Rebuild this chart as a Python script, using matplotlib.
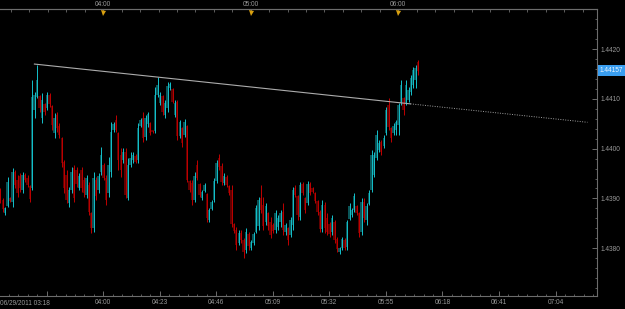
import numpy as np
import matplotlib
matplotlib.use("Agg")
import matplotlib.pyplot as plt
import matplotlib.transforms as mtransforms
from matplotlib.ticker import FixedLocator

# ---------------- data (EUR/USD 1-minute candles, 06/29/2011 from 03:18) ----------------
start_label = "06/29/2011 03:18"
start_hhmm = (3, 18)

opens = [
    1.43917, 1.43897, 1.43871, 1.43885, 1.43901, 1.43893, 1.43953, 1.43937, 1.43945, 1.43917,
    1.43947, 1.43941, 1.43925, 1.43921, 1.44078, 1.44104, 1.44106, 1.44062, 1.44090, 1.44082,
    1.44108, 1.44086, 1.44032, 1.44068, 1.44046, 1.44022, 1.43973, 1.43947, 1.43891, 1.43917,
    1.43961, 1.43957, 1.43921, 1.43957, 1.43937, 1.43907, 1.43927, 1.43871, 1.43841, 1.43937,
    1.43917, 1.43953, 1.43967, 1.43941, 1.43911, 1.43953, 1.44038, 1.44058, 1.44032, 1.43987,
    1.43977, 1.43993, 1.43901, 1.43967, 1.43977, 1.43985, 1.43977, 1.44046, 1.44062, 1.44024,
    1.44050, 1.44052, 1.44038, 1.44036, 1.44108, 1.44092, 1.44106, 1.44068, 1.44082, 1.44122,
    1.44120, 1.44068, 1.44094, 1.44026, 1.44042, 1.44028, 1.44046, 1.43935, 1.43931, 1.43897,
    1.43967, 1.43929, 1.43901, 1.43915, 1.43909, 1.43857, 1.43879, 1.43897, 1.43935, 1.43981,
    1.43965, 1.43931, 1.43943, 1.43925, 1.43917, 1.43849, 1.43837, 1.43811, 1.43831, 1.43817,
    1.43796, 1.43829, 1.43801, 1.43811, 1.43833, 1.43845, 1.43901, 1.43887, 1.43853, 1.43871,
    1.43853, 1.43847, 1.43837, 1.43843, 1.43853, 1.43873, 1.43833, 1.43841, 1.43827, 1.43847,
    1.43921, 1.43905, 1.43863, 1.43929, 1.43901, 1.43891, 1.43929, 1.43921, 1.43911, 1.43895,
    1.43873, 1.43839, 1.43887, 1.43861, 1.43849, 1.43833, 1.43853, 1.43819, 1.43792, 1.43801,
    1.43817, 1.43803, 1.43859, 1.43867, 1.43877, 1.43885, 1.43871, 1.43833, 1.43893, 1.43857,
    1.43889, 1.43917, 1.43947, 1.43981, 1.43997, 1.44014, 1.44006, 1.44032, 1.44088, 1.44042,
    1.44032, 1.44038, 1.44048, 1.44092, 1.44102, 1.44092, 1.44098, 1.44114, 1.44128, 1.44138,
    1.44174,
]
highs = [
    1.43921, 1.43901, 1.43883, 1.43943, 1.43903, 1.43961, 1.43957, 1.43947, 1.43951, 1.43953,
    1.43951, 1.43947, 1.43927, 1.44138, 1.44114, 1.44168, 1.44108, 1.44112, 1.44092, 1.44114,
    1.44112, 1.44088, 1.44072, 1.44074, 1.44052, 1.44024, 1.43977, 1.43957, 1.43923, 1.43963,
    1.43967, 1.43963, 1.43951, 1.43963, 1.43943, 1.43947, 1.43933, 1.43873, 1.43953, 1.43943,
    1.43951, 1.44004, 1.43971, 1.43947, 1.43983, 1.44054, 1.44054, 1.44068, 1.44034, 1.44002,
    1.44002, 1.44002, 1.43981, 1.43993, 1.43993, 1.43989, 1.44052, 1.44062, 1.44074, 1.44068,
    1.44074, 1.44054, 1.44038, 1.44124, 1.44144, 1.44114, 1.44108, 1.44098, 1.44134, 1.44134,
    1.44122, 1.44098, 1.44098, 1.44058, 1.44044, 1.44060, 1.44048, 1.43937, 1.43937, 1.43953,
    1.43977, 1.43931, 1.43917, 1.43931, 1.43911, 1.43881, 1.43897, 1.43941, 1.43977, 1.43989,
    1.43971, 1.43951, 1.43947, 1.43927, 1.43927, 1.43851, 1.43843, 1.43837, 1.43837, 1.43821,
    1.43841, 1.43833, 1.43817, 1.43833, 1.43887, 1.43903, 1.43927, 1.43903, 1.43891, 1.43873,
    1.43863, 1.43851, 1.43877, 1.43867, 1.43877, 1.43891, 1.43851, 1.43843, 1.43863, 1.43923,
    1.43927, 1.43907, 1.43933, 1.43933, 1.43903, 1.43935, 1.43933, 1.43923, 1.43913, 1.43897,
    1.43877, 1.43897, 1.43893, 1.43871, 1.43853, 1.43867, 1.43857, 1.43823, 1.43803, 1.43823,
    1.43821, 1.43857, 1.43891, 1.43881, 1.43911, 1.43887, 1.43873, 1.43901, 1.43901, 1.43891,
    1.43917, 1.43997, 1.43993, 1.44038, 1.44018, 1.44018, 1.44028, 1.44084, 1.44102, 1.44044,
    1.44052, 1.44058, 1.44092, 1.44138, 1.44104, 1.44138, 1.44124, 1.44148, 1.44164, 1.44168,
    1.44178,
]
lows = [
    1.43891, 1.43873, 1.43867, 1.43883, 1.43893, 1.43883, 1.43921, 1.43903, 1.43913, 1.43911,
    1.43933, 1.43923, 1.43893, 1.43917, 1.44062, 1.44102, 1.44074, 1.44052, 1.44068, 1.44078,
    1.44084, 1.44038, 1.44022, 1.44034, 1.44022, 1.43963, 1.43911, 1.43891, 1.43883, 1.43911,
    1.43893, 1.43923, 1.43917, 1.43913, 1.43903, 1.43901, 1.43867, 1.43831, 1.43833, 1.43897,
    1.43911, 1.43947, 1.43937, 1.43887, 1.43903, 1.43943, 1.44034, 1.44034, 1.43957, 1.43943,
    1.43971, 1.43901, 1.43897, 1.43963, 1.43971, 1.43971, 1.43971, 1.44044, 1.44014, 1.44018,
    1.44044, 1.44028, 1.44032, 1.44032, 1.44104, 1.44088, 1.44068, 1.44062, 1.44074, 1.44118,
    1.44092, 1.44064, 1.44018, 1.44022, 1.44004, 1.44024, 1.43933, 1.43913, 1.43887, 1.43893,
    1.43937, 1.43903, 1.43897, 1.43913, 1.43853, 1.43853, 1.43877, 1.43893, 1.43931, 1.43957,
    1.43927, 1.43927, 1.43923, 1.43907, 1.43843, 1.43831, 1.43796, 1.43807, 1.43811, 1.43780,
    1.43790, 1.43796, 1.43796, 1.43807, 1.43831, 1.43837, 1.43871, 1.43837, 1.43847, 1.43837,
    1.43821, 1.43831, 1.43831, 1.43837, 1.43843, 1.43827, 1.43827, 1.43807, 1.43823, 1.43837,
    1.43903, 1.43857, 1.43857, 1.43907, 1.43871, 1.43887, 1.43907, 1.43911, 1.43891, 1.43867,
    1.43833, 1.43833, 1.43831, 1.43827, 1.43823, 1.43827, 1.43811, 1.43792, 1.43788, 1.43796,
    1.43796, 1.43796, 1.43857, 1.43863, 1.43873, 1.43867, 1.43823, 1.43827, 1.43853, 1.43847,
    1.43887, 1.43913, 1.43943, 1.43977, 1.43993, 1.43987, 1.44002, 1.44028, 1.44038, 1.44014,
    1.44028, 1.44028, 1.44028, 1.44088, 1.44068, 1.44088, 1.44094, 1.44108, 1.44122, 1.44122,
    1.44148,
]
closes = [
    1.43897, 1.43879, 1.43881, 1.43933, 1.43895, 1.43953, 1.43927, 1.43911, 1.43921, 1.43947,
    1.43937, 1.43927, 1.43899, 1.44104, 1.44108, 1.44138, 1.44082, 1.44098, 1.44074, 1.44108,
    1.44090, 1.44048, 1.44062, 1.44042, 1.44028, 1.43971, 1.43921, 1.43897, 1.43917, 1.43953,
    1.43901, 1.43929, 1.43945, 1.43921, 1.43911, 1.43941, 1.43873, 1.43841, 1.43941, 1.43905,
    1.43945, 1.43987, 1.43941, 1.43897, 1.43967, 1.44034, 1.44050, 1.44038, 1.43977, 1.43957,
    1.43993, 1.43907, 1.43967, 1.43981, 1.43987, 1.43973, 1.44042, 1.44058, 1.44022, 1.44062,
    1.44070, 1.44032, 1.44034, 1.44108, 1.44128, 1.44108, 1.44074, 1.44092, 1.44126, 1.44130,
    1.44094, 1.44092, 1.44026, 1.44054, 1.44012, 1.44054, 1.43937, 1.43917, 1.43897, 1.43945,
    1.43941, 1.43907, 1.43913, 1.43927, 1.43861, 1.43877, 1.43893, 1.43935, 1.43971, 1.43963,
    1.43933, 1.43945, 1.43927, 1.43911, 1.43849, 1.43835, 1.43807, 1.43831, 1.43817, 1.43792,
    1.43833, 1.43805, 1.43813, 1.43829, 1.43881, 1.43897, 1.43877, 1.43845, 1.43885, 1.43845,
    1.43827, 1.43835, 1.43871, 1.43861, 1.43871, 1.43837, 1.43847, 1.43817, 1.43857, 1.43917,
    1.43907, 1.43867, 1.43927, 1.43911, 1.43877, 1.43929, 1.43911, 1.43913, 1.43895, 1.43873,
    1.43839, 1.43887, 1.43841, 1.43833, 1.43829, 1.43861, 1.43817, 1.43799, 1.43801, 1.43819,
    1.43801, 1.43853, 1.43885, 1.43877, 1.43905, 1.43871, 1.43831, 1.43893, 1.43861, 1.43885,
    1.43911, 1.43987, 1.43987, 1.44028, 1.44012, 1.43993, 1.44022, 1.44078, 1.44044, 1.44022,
    1.44046, 1.44054, 1.44088, 1.44128, 1.44078, 1.44128, 1.44118, 1.44142, 1.44158, 1.44162,
    1.44157,
]

# trend line anchors (minutes after start, price)
trend_t = [14, 167, 239]
trend_p = [1.44170, 1.44090, 1.44053]

last_price_label = "1.44157"

bottom_tick_labels = ["03:37", "04:00", "04:23", "04:46", "05:09", "05:32", "05:55", "06:18", "06:41", "07:04"]
top_tick_labels = ["04:00", "05:00", "06:00"]
price_ticks = [1.4380, 1.4390, 1.4400, 1.4410, 1.4420]

# ---------------- styling ----------------
BG = "#000000"
AX = "#6c6c6c"
TXT = "#9a9a9a"
UP_WICK, UP_BODY = "#14c2cc", "#0a5558"
DN_WICK, DN_BODY = "#c00000", "#600000"
FONT = "Liberation Sans"
FS = 4.7

def minutes(lbl):
    hh, mm = map(int, lbl.split(":"))
    return hh * 60 + mm - (start_hhmm[0] * 60 + start_hhmm[1])

o = np.array(opens); h = np.array(highs); l = np.array(lows); c = np.array(closes)
t = np.arange(len(o))
up = c >= o

W, H = 625, 309
fig = plt.figure(figsize=(W / 100, H / 100), dpi=100, facecolor=BG)
ax = fig.add_axes([0, 13 / H, 597 / W, 286.7 / H], facecolor=BG)

# bodies
ax.bar(t[up], (c - o)[up], bottom=o[up], width=0.75, color=UP_BODY, linewidth=0, zorder=2)
ax.bar(t[~up], (o - c)[~up], bottom=c[~up], width=0.75, color=DN_BODY, linewidth=0, zorder=2)
# wicks
ax.vlines(t[up] + 0.2, l[up], h[up], color=UP_WICK, linewidth=0.7, zorder=3)
ax.vlines(t[~up] + 0.2, l[~up], h[~up], color=DN_WICK, linewidth=0.7, zorder=3)

# trend line: solid part then dotted extension
ax.plot(trend_t[:2], trend_p[:2], color="#acacac", linewidth=0.8, zorder=4)
ax.plot(trend_t[1:], trend_p[1:], color="#a0a0a0", linewidth=0.7,
        linestyle=(0, (1, 1.5)), zorder=4)

ax.set_xlim(0, 597 / 2.458)
ax.set_ylim(1.43704, 1.44280)

ax.spines["left"].set_visible(False)
for s in ["right", "bottom", "top"]:
    ax.spines[s].set_color(AX)
    ax.spines[s].set_linewidth(0.8)

# right price axis
ax.yaxis.tick_right()
ax.yaxis.set_major_locator(FixedLocator(price_ticks))
ax.yaxis.set_minor_locator(FixedLocator(np.arange(1.4370, 1.4430, 0.0002)))
ax.set_yticklabels([f"{v:.4f}" for v in price_ticks])
ax.tick_params(axis="y", which="major", direction="in", length=3.5, width=0.7,
               color=AX, labelcolor=TXT, labelsize=FS, pad=2.5)
ax.tick_params(axis="y", which="minor", direction="in", length=1.6, width=0.6, color=AX)
for lab in ax.get_yticklabels():
    lab.set_fontfamily(FONT)

# bottom time axis
bpos = [minutes(s) for s in bottom_tick_labels]
ax.xaxis.set_major_locator(FixedLocator(bpos))
ax.set_xticklabels([""] + bottom_tick_labels[1:])
ax.xaxis.set_minor_locator(FixedLocator(np.arange(bpos[0] - 23, 260, 23 / 6)))
ax.tick_params(axis="x", which="major", direction="in", length=3.3, width=0.7,
               color=AX, labelcolor=TXT, labelsize=FS, pad=2.5)
ax.tick_params(axis="x", which="minor", direction="in", length=1.5, width=0.6, color=AX)
for lab in ax.get_xticklabels():
    lab.set_fontfamily(FONT)
bt = mtransforms.blended_transform_factory(ax.transData, ax.transAxes)
ax.text(0, -0.0135, start_label, transform=bt, ha="left", va="top",
        fontsize=FS, color=TXT, family=FONT)

# top time axis
sec = ax.secondary_xaxis("top")
tpos = [minutes(s) for s in top_tick_labels]
sec.xaxis.set_major_locator(FixedLocator(tpos))
sec.set_xticklabels(top_tick_labels)
sec.xaxis.set_minor_locator(FixedLocator(np.arange(tpos[0] - 37.5, 250, 7.5)))
sec.tick_params(axis="x", which="major", direction="in", length=2, width=0.6,
                color=AX, labelcolor=TXT, labelsize=FS, pad=1.2)
sec.tick_params(axis="x", which="minor", direction="in", length=2, width=0.6, color=AX)
sec.spines["top"].set_color(AX)
sec.spines["top"].set_linewidth(0.8)
for lab in sec.get_xticklabels():
    lab.set_fontfamily(FONT)
ax.plot(tpos, [0.988] * len(tpos), transform=bt, linestyle="none", marker="v",
        markersize=3.6, color="#d9a010", markeredgewidth=0, clip_on=False, zorder=5)

# last price tag
rt = mtransforms.blended_transform_factory(ax.transAxes, ax.transData)
ax.text(1.004, float(last_price_label), last_price_label, transform=rt, ha="left",
        va="center", fontsize=FS, color="#eaf5ff", family=FONT,
        bbox=dict(boxstyle="square,pad=0.25", facecolor="#3a9ef0", edgecolor="none"))

fig.savefig("out.png", dpi=100, facecolor=BG)
